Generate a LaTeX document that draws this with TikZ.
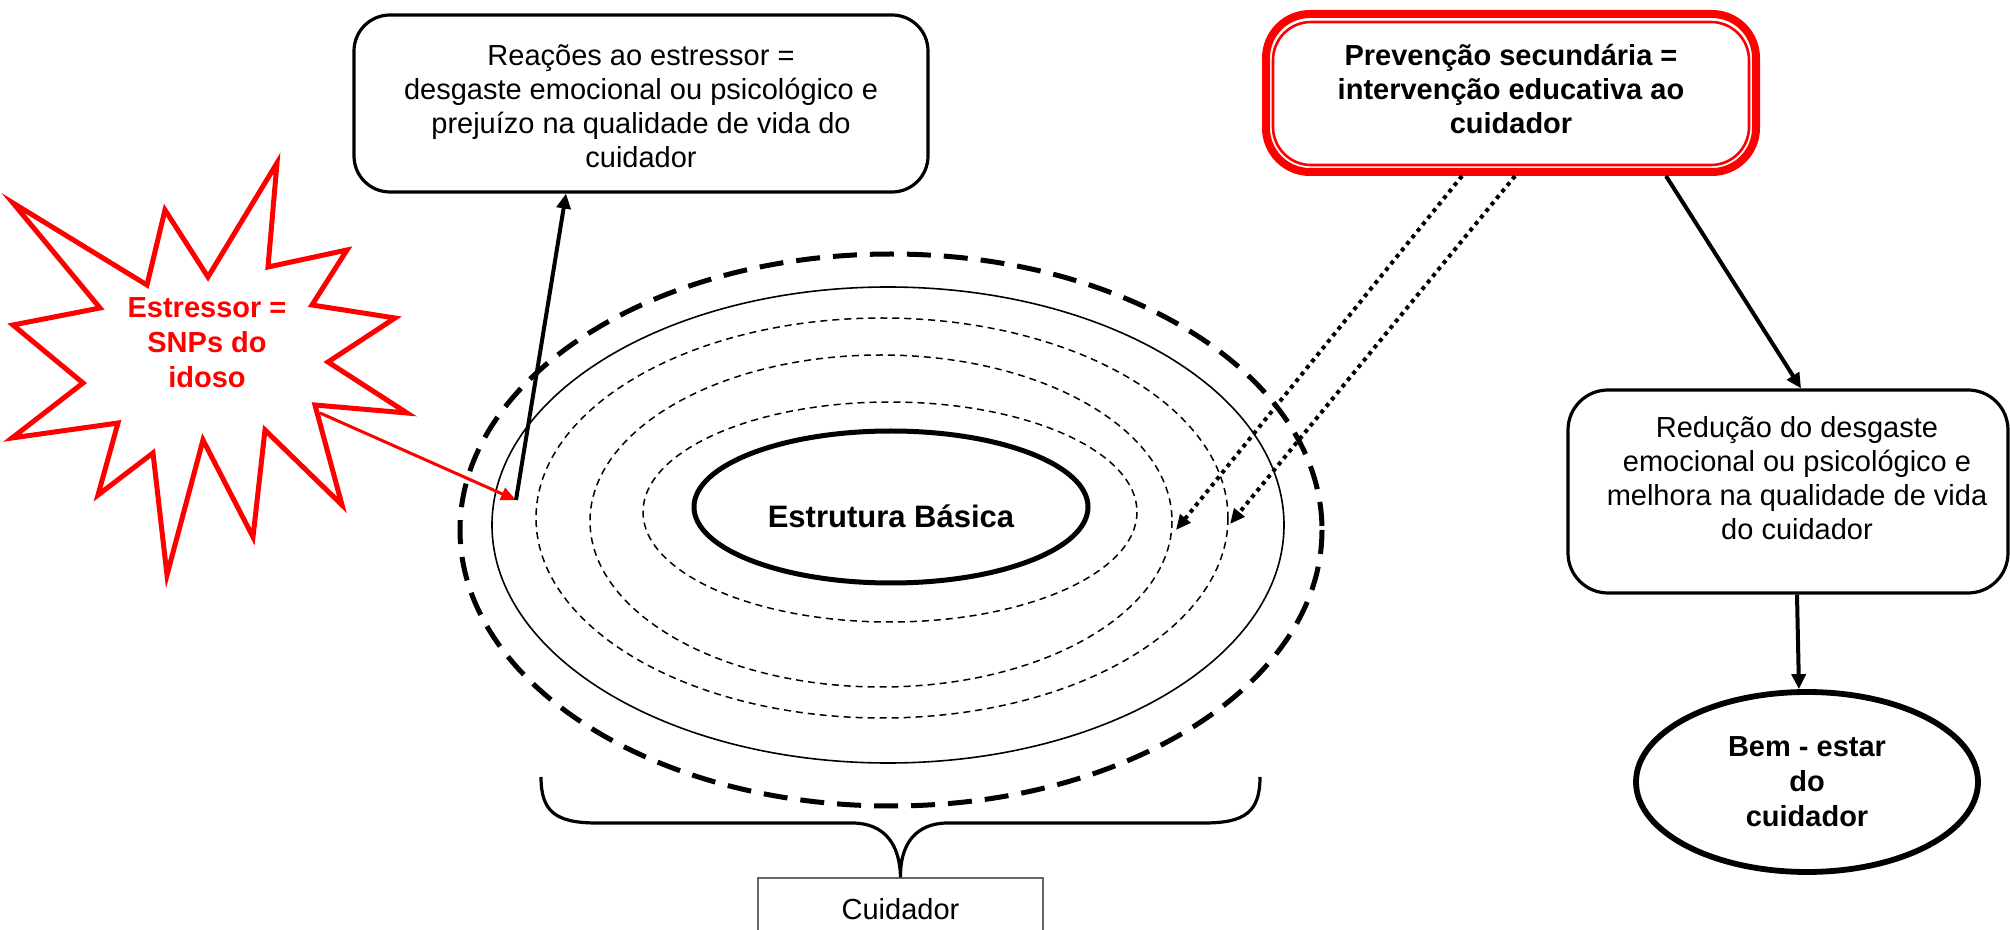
\documentclass[tikz,border=0pt]{standalone}
\usepackage{fontspec}
\setmainfont{Liberation Sans}
\usetikzlibrary{arrows.meta,shapes.geometric}
\tikzset{
  txt/.style={align=center, inner sep=0pt, font=\fontsize{14.5pt}{17pt}\selectfont},
  btxt/.style={txt, font=\fontsize{14.5pt}{17pt}\selectfont\bfseries},
  rbox/.style={draw, line width=1.6pt, rounded corners=18pt, inner sep=0pt},
  arr/.style={-{Triangle[length=7.5pt,width=7pt]}, line width=2pt},
  redarr/.style={-{Triangle[length=7.5pt,width=6.5pt]}, line width=1.5pt, red},
  dotarr/.style={-{Triangle[length=7.5pt,width=6.5pt]}, line width=2pt, dash pattern=on 2pt off 2.2pt},
  thindash/.style={line width=0.75pt, dash pattern=on 3.5pt off 2.5pt},
}
\begin{document}
\begin{tikzpicture}[x=0.5pt,y=-0.5pt]
\useasboundingbox[fill=white] (0,0) rectangle (2010,930);

% Reactions box
\node[rbox, minimum width=287pt, minimum height=88.5pt] (react) at (641,103.5) {};
\node[txt] (reacttxt) at (641,106) {Reações ao estressor =\\desgaste emocional ou psicológico e\\prejuízo na qualidade de vida do\\cuidador};

% Prevention box (double red border)
\node[draw=red, line width=4pt, rounded corners=22pt, minimum width=245pt, minimum height=79pt, inner sep=0pt] (prev) at (1511,93) {};
\node[draw=red, line width=1.3pt, rounded corners=19pt, minimum width=238pt, minimum height=71.5pt, inner sep=0pt] (previn) at (1511,93.5) {};
\node[btxt] (prevtxt) at (1511,89) {Prevenção secundária =\\intervenção educativa ao\\cuidador};

% Stressor star
\draw[red, line width=2.5pt, line join=miter] (13,203) -- (147,285) -- (165,210) -- (208,277) -- (277,163) -- (268,267) -- (347,250) -- (312,305) -- (395,318) -- (328,362) -- (407,413) -- (315,405) -- (342,505) -- (265,430) -- (253,537) -- (203,440) -- (167,575) -- (153,453) -- (98,495) -- (118,423) -- (12,438) -- (83,383) -- (13,325) -- (100,308) -- cycle;
\node[btxt, text=red, font=\fontsize{14.5pt}{17.5pt}\selectfont\bfseries] (stress) at (207,343) {Estressor =\\SNPs do\\idoso};
\coordinate (starpt) at (320,413);

% Concentric lines of defence
\draw[line width=2.5pt, dash pattern=on 12pt off 6.5pt] (891,530) ellipse [x radius=431, y radius=276];
\draw[line width=0.8pt] (888,525) ellipse [x radius=396, y radius=238];
\draw[thindash] (882,518) ellipse [x radius=346, y radius=200];
\draw[thindash] (881,521) ellipse [x radius=291, y radius=166];
\draw[thindash] (890,512) ellipse [x radius=247, y radius=110];
\node[draw, ellipse, line width=2.5pt, minimum width=197pt, minimum height=76pt, inner sep=0pt] (basic) at (891,507) {};
\node[btxt, font=\fontsize{15.5pt}{18pt}\selectfont\bfseries] (basictxt) at (891,516) {Estrutura Básica};

\coordinate (hit) at (516,500);
\coordinate (lineA) at (1176,530);
\coordinate (lineB) at (1230,524);

% Reduction box
\node[rbox, rounded corners=20pt, minimum width=220pt, minimum height=101.5pt] (redu) at (1788,491.5) {};
\node[txt] (redutxt) at (1797,478) {Redução do desgaste\\emocional ou psicológico e\\melhora na qualidade de vida\\do cuidador};

% Well-being ellipse
\node[draw, ellipse, line width=2.9pt, minimum width=171pt, minimum height=90pt, inner sep=0pt, btxt, font=\fontsize{14.5pt}{17.5pt}\selectfont\bfseries] (bem) at (1807,782) {Bem - estar\\do\\cuidador};

% Caregiver box and brace
\node[draw=black!60, line width=0.6pt, minimum width=142.5pt, minimum height=31pt, inner sep=0pt, txt] (cuid) at (900.5,909) {Cuidador};
\draw[line width=1.6pt] (541,777) .. controls (541,812) and (556,823) .. (597,823) -- (852,823) .. controls (885,823) and (900,845) .. (cuid.north) .. controls (900,845) and (915,823) .. (948,823) -- (1204,823) .. controls (1245,823) and (1260,812) .. (1260,777);

% Connectors
\draw[redarr] (starpt) -- (hit);
\draw[arr] (hit) -- ([xshift=-37.5pt]react.south);
\draw[dotarr] ([xshift=-24.5pt]prev.south) -- (lineA);
\draw[dotarr] ([xshift=2pt]prev.south) -- (lineB);
\draw[arr] ([xshift=77.5pt]prev.south) -- ([xshift=6.5pt]redu.north);
\draw[arr] ([xshift=4.5pt]redu.south) -- ([xshift=-4pt]bem.north);
\end{tikzpicture}
\end{document}
